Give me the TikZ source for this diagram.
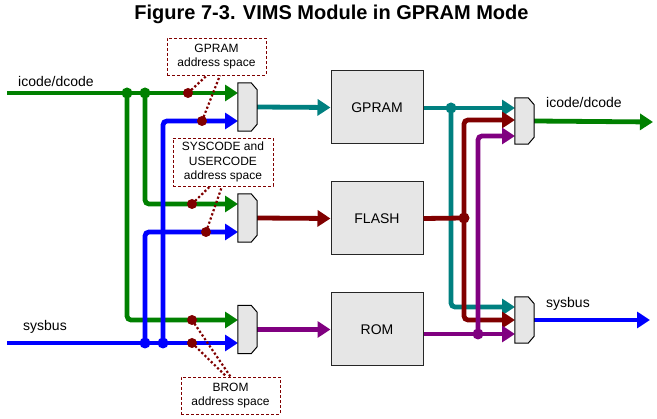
\documentclass[tikz,border=0pt]{standalone}
\usepackage{fontspec}
\setmainfont{Liberation Sans}
\usetikzlibrary{arrows.meta}
\definecolor{bgreen}{HTML}{008000}
\definecolor{bblue}{HTML}{0000FF}
\definecolor{bteal}{HTML}{008080}
\definecolor{bred}{HTML}{800000}
\definecolor{bpurple}{HTML}{800080}
\definecolor{boxgray}{HTML}{E6E6E6}
\newcommand\muxbody[1]{%
  \draw[draw=black, fill=boxgray, line width=1pt]
    (#1.south west) -- (#1.north west) -- ([xshift=-6pt]#1.north east)
    -- ([yshift=-7pt]#1.north east) -- ([yshift=7pt]#1.south east)
    -- ([xshift=-6pt]#1.south east) -- cycle;}
\begin{document}
\begin{tikzpicture}[x=1pt,y=-1pt,
 bus/.style={line width=4.8pt, rounded corners=4pt},
 arr/.style={-{Triangle[length=13pt,width=16pt]}},
 blk/.style={draw=black!85, fill=boxgray, line width=1pt, minimum width=92pt, minimum height=73pt, font=\fontsize{14}{16}\selectfont},
 lbl/.style={font=\fontsize{14}{16}\selectfont, inner sep=0},
 addr/.style={draw=bred, densely dashed, line width=0.7pt, fill=white, align=center, font=\fontsize{12}{14.5}\selectfont, inner sep=0, minimum width=99pt},
 jdot/.style={circle, inner sep=0, minimum size=11pt},
 sdot/.style={circle, fill=bred, inner sep=0, minimum size=10pt},
 mux/.style={minimum width=19pt, minimum height=48pt, inner sep=0},
 sel/.style={bred, line width=2.2pt, dash pattern=on 2.2pt off 2.2pt},
]
\useasboundingbox (0,0) rectangle (657,419);

% title
\node[font=\fontsize{20}{22}\selectfont\bfseries] (title) at (331.5,14) {Figure 7-3. VIMS Module in GPRAM Mode};

% blocks
\node[blk] (gpram) at (377,107.5) {GPRAM};
\node[blk] (flash) at (377,218.5) {FLASH};
\node[blk] (rom) at (377,329.5) {ROM};

% muxes
\node[mux] (m1) at (247.5,107) {};
\node[mux] (m2) at (247.5,218) {};
\node[mux] (m3) at (247.5,329.5) {};
\node[mux, minimum height=46pt] (m4) at (524.5,121) {};
\node[mux, minimum height=46pt] (m5) at (524.5,320) {};

% ports
\coordinate (m1a) at (238,93);  \coordinate (m1b) at (238,121);
\coordinate (m2a) at (238,204); \coordinate (m2b) at (238,232);
\coordinate (m3a) at (238,320); \coordinate (m3b) at (238,343);
\coordinate (m4a) at (515,108); \coordinate (m4b) at (515,120); \coordinate (m4c) at (515,136);
\coordinate (m5a) at (515,307); \coordinate (m5b) at (515,320); \coordinate (m5c) at (515,334);
\coordinate (in1) at (7,93);
\coordinate (in2) at (7,343);
\coordinate (out1) at (653,122);
\coordinate (out2) at (650,320);

% junctions
\node[jdot] (jg1) at (127,93) {};
\node[jdot] (jg2) at (145,93) {};
\node[jdot] (jb1) at (145,343) {};
\node[jdot] (jb2) at (163,343) {};
\node[jdot] (jt) at (451,108) {};
\node[jdot] (jr) at (464,218) {};
\node[jdot] (jp) at (478,334) {};

% green buses
\draw[bus, bgreen, arr] (in1) -- (m1a);
\draw[bus, bgreen, arr] (jg1.center) |- (m3a);
\draw[bus, bgreen, arr] (jg2.center) |- (m2a);
% blue buses
\draw[bus, bblue, arr] (in2) -- (m3b);
\draw[bus, bblue, arr] (jb1.center) |- (m2b);
\draw[bus, bblue, arr] (jb2.center) |- (m1b);

% mux outputs to blocks
\draw[bus, bteal, arr] (m1.east) -- (gpram.west);
\draw[bus, bred, arr] (m2.east) -- (flash.west);
\draw[bus, bpurple, arr] (m3.east) -- (rom.west);

% right side
\draw[bus, bteal, arr] (gpram.east |- m4a) -- (m4a);
\draw[bus, bteal, arr] (jt.center) |- (m5a);
\draw[bus, bred] (flash.east) -- (jr.center);
\draw[bus, bred, arr] (jr.center) |- (m4b);
\draw[bus, bred, arr] (jr.center) |- (m5b);
\draw[bus, bpurple, arr] (rom.east |- m5c) -- (m5c);
\draw[bus, bpurple, arr] (jp.center) |- (m4c);

\draw[bus, bgreen, arr] (m4.east) -- (out1);
\draw[bus, bblue, arr] (m5.east) -- (out2);

% junction dots on top
\foreach \j/\c in {jg1/bgreen,jg2/bgreen,jb1/bblue,jb2/bblue,jt/bteal,jr/bred,jp/bpurple}
  \fill[\c] (\j) circle (5.5pt);

% mux bodies
\muxbody{m1}\muxbody{m2}\muxbody{m3}\muxbody{m4}\muxbody{m5}

% address space boxes
\node[addr, minimum height=37pt] (a1) at (216.5,56.5) {GPRAM\\address space};
\node[addr, minimum height=48pt, minimum width=100pt] (a2) at (223,162) {SYSCODE and\\USERCODE\\address space};
\node[addr, minimum height=37pt] (a3) at (230.5,395.5) {BROM\\address space};

% select dots
\node[sdot] (s1a) at (188,93) {};
\node[sdot] (s1b) at (202,121) {};
\node[sdot] (s2a) at (192,204) {};
\node[sdot] (s2b) at (206,232) {};
\node[sdot] (s3a) at (192,320) {};
\node[sdot] (s3b) at (192,343) {};
\draw[sel] (s1a.center) -- ([xshift=-9.5pt]a1.south);
\draw[sel] (s1b.center) -- ([xshift=3.5pt]a1.south);
\draw[sel] (s2a.center) -- ([xshift=-13pt]a2.south);
\draw[sel] (s2b.center) -- ([xshift=-1pt]a2.south);
\draw[sel] (s3a.center) -- ([xshift=0pt]a3.north);
\draw[sel] (s3b.center) -- ([xshift=-4pt]a3.north);

% labels
\node[lbl, anchor=west] (l1) at (18,82) {icode/dcode};
\node[lbl, anchor=west] (l2) at (23,327) {sysbus};
\node[lbl, anchor=west] (l3) at (546,103) {icode/dcode};
\node[lbl, anchor=west] (l4) at (546,304) {sysbus};
\end{tikzpicture}
\end{document}
